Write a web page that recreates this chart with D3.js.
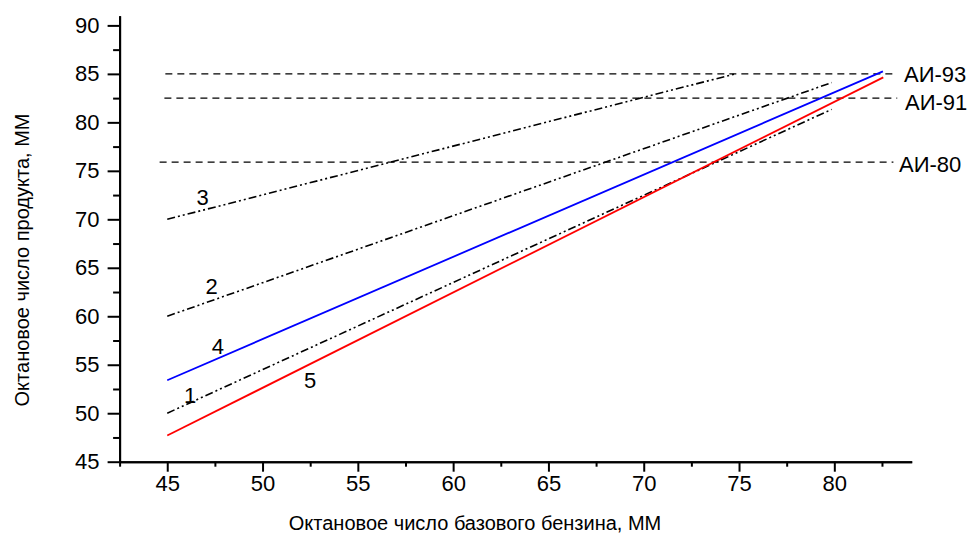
<!DOCTYPE html>
<html>
<head>
<meta charset="utf-8">
<script src="https://cdn.jsdelivr.net/npm/d3@7"></script>
<style>
  body { margin: 0; background: #fff; }
  svg { font-family: "Liberation Sans", Arial, sans-serif; }
</style>
</head>
<body>
<svg width="977" height="537"></svg>
<script>
// octane lines: x = base gasoline ON, y = product ON
var lineNames = ["1", "2", "3", "4", "5"];
var lineX = [[45, 79.86], [45, 79.86], [45, 74.8], [45, 82.55], [45, 82.57]];
var lineY = [[50, 81.34], [60, 84.1], [70, 85], [53.4, 85.26], [47.7, 84.64]];
var lineColors = ["#000", "#000", "#000", "#0000ff", "#ff0000"];

// label anchors for curve numbers (data units)
var labelX = [46.2, 47.33, 46.85, 47.66, 52.5];
var labelY = [51.05, 62.3, 71.47, 56.1, 52.6];

// grade levels
var grades = ["АИ-93", "АИ-91", "АИ-80"];
var gradeY = [85, 82.5, 75.9];
var gradeStart = [44.9, 44.85, 44.6];
var gradeEnd = [83.3, 83.3, 83.1];

var xTicks = [45, 50, 55, 60, 65, 70, 75, 80];
var yTicks = [45, 50, 55, 60, 65, 70, 75, 80, 85, 90];

var svg = d3.select("svg");

var x = d3.scaleLinear().domain([42.5, 84.06]).range([119.6, 911.7]);
var y = d3.scaleLinear().domain([45, 91]).range([461.7, 15.7]);

// axes
var xAxis = svg.append("g").attr("transform", "translate(0,461.7)");
xAxis.call(d3.axisBottom(x).tickValues(xTicks).tickSize(10).tickPadding(4).tickSizeOuter(0));
xAxis.append("g").call(d3.axisBottom(x).tickValues(d3.range(42.5, 84, 5)).tickSize(5).tickFormat("").tickSizeOuter(0));

var yAxis = svg.append("g").attr("transform", "translate(119.6,0)");
yAxis.call(d3.axisLeft(y).tickValues(yTicks).tickSize(12).tickPadding(8).tickSizeOuter(0));
yAxis.append("g").call(d3.axisLeft(y).tickValues(d3.range(47.5, 91, 5)).tickSize(6.5).tickFormat("").tickSizeOuter(0));

svg.selectAll(".domain").attr("stroke", "#000").attr("stroke-width", 2);
svg.selectAll(".tick line").attr("stroke", "#000").attr("stroke-width", 2);
svg.selectAll(".tick text").attr("font-size", 22).attr("fill", "#000")
  .attr("font-family", "Liberation Sans, Arial, sans-serif");

// grade lines
grades.forEach(function(g, i) {
  svg.append("line")
    .attr("x1", x(gradeStart[i])).attr("x2", x(gradeEnd[i]))
    .attr("y1", y(gradeY[i])).attr("y2", y(gradeY[i]))
    .attr("stroke", "#000")
    .attr("stroke-width", 1.3)
    .attr("stroke-dasharray", "7,5");
});

svg.append("text").attr("x", 904).attr("y", y(gradeY[0]) + 8).attr("font-size", 22).text(grades[0]);
svg.append("text").attr("x", 905).attr("y", y(gradeY[1]) + 12).attr("font-size", 22).text(grades[1]);
svg.append("text").attr("x", 899).attr("y", y(gradeY[2]) + 10).attr("font-size", 22).text(grades[2]);

// curves
var line = d3.line()
  .x(function(d) { return x(d[0]); })
  .y(function(d) { return y(d[1]); });

lineNames.forEach(function(n, i) {
  var pts = lineX[i].map(function(v, j) { return [v, lineY[i][j]]; });
  svg.append("path")
    .attr("d", line(pts))
    .attr("fill", "none")
    .attr("stroke", lineColors[i])
    .attr("stroke-width", i > 2 ? 1.8 : 1.6)
    .attr("stroke-dasharray", i > 2 ? null : "8,3,2,3,2,3");

  svg.append("text")
    .attr("x", x(labelX[i]))
    .attr("y", y(labelY[i]))
    .attr("text-anchor", "middle")
    .attr("font-size", 22)
    .text(n);
});

// axis titles
svg.append("text")
  .attr("x", 475).attr("y", 530)
  .attr("text-anchor", "middle")
  .attr("font-size", 20)
  .text("Октановое число базового бензина, ММ");

svg.append("text")
  .attr("transform", "translate(29,260) rotate(-90)")
  .attr("text-anchor", "middle")
  .attr("font-size", 20)
  .text("Октановое число продукта, ММ");
</script>
</body>
</html>
